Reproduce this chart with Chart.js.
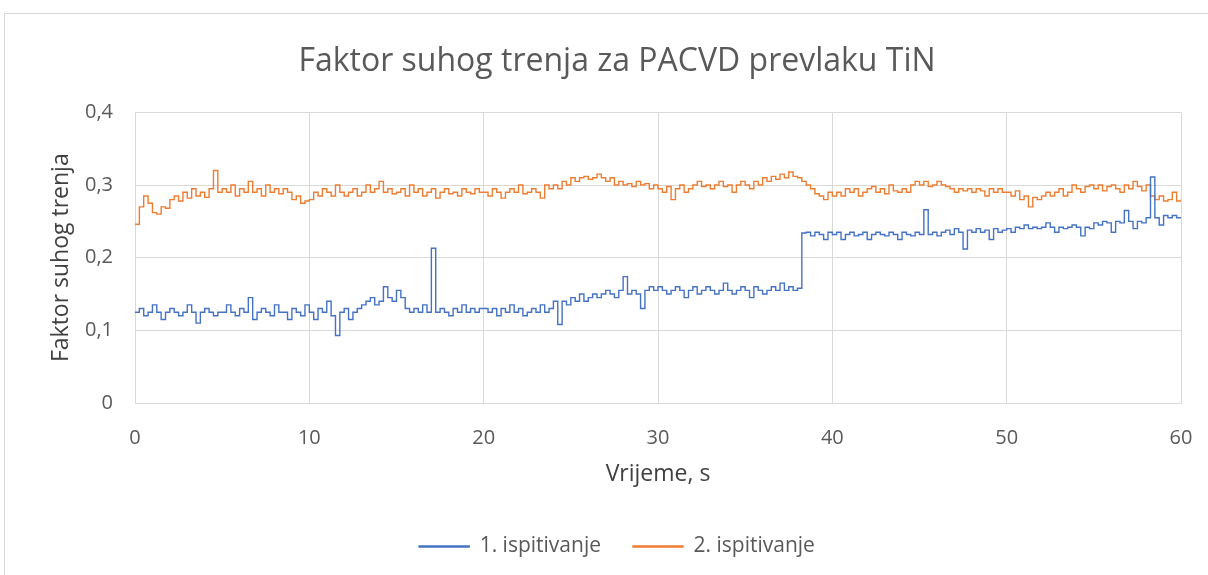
<!DOCTYPE html>
<html>
<head>
<meta charset="utf-8">
<script src="https://cdn.jsdelivr.net/npm/chart.js"></script>
<style>
  html, body { margin: 0; padding: 0; background: #fff; overflow: hidden; }
  #frame {
    position: absolute; left: 4px; top: 13px; width: 1220px; height: 600px;
    border: 1px solid #d9d9d9; box-sizing: border-box;
  }
  #wrap { position: absolute; left: 0; top: 0; width: 1208px; height: 575px; }
</style>
</head>
<body>
<div id="frame"></div>
<div id="wrap"><canvas id="frictionChart" width="1208" height="575"></canvas></div>
<script>
// Sampling step of the readings (s), values every 0.25 s
const sampleStep = 0.25;

const seriesNames = ["1. ispitivanje", "2. ispitivanje"];

const yTickLabels = ["0", "0,1", "0,2", "0,3", "0,4"];

// 1. ispitivanje (blue)
const test1 = [
  0.125, 0.13, 0.12, 0.125, 0.135, 0.125, 0.115, 0.125, 0.13, 0.125, 0.12, 0.125, 0.135, 0.125, 0.11, 0.125, 0.13, 0.125, 0.12, 0.125,
  0.125, 0.135, 0.125, 0.12, 0.13, 0.125, 0.145, 0.115, 0.125, 0.13, 0.125, 0.12, 0.135, 0.125, 0.125, 0.115, 0.13, 0.125, 0.12, 0.135,
  0.125, 0.115, 0.13, 0.125, 0.14, 0.12, 0.093, 0.125, 0.13, 0.115, 0.125, 0.13, 0.135, 0.14, 0.145, 0.135, 0.14, 0.16, 0.145, 0.14,
  0.155, 0.145, 0.13, 0.125, 0.13, 0.125, 0.135, 0.125, 0.213, 0.125, 0.13, 0.125, 0.12, 0.13, 0.125, 0.135, 0.125, 0.13, 0.125, 0.13,
  0.13, 0.125, 0.13, 0.12, 0.13, 0.125, 0.135, 0.125, 0.13, 0.12, 0.125, 0.13, 0.125, 0.135, 0.125, 0.13, 0.14, 0.108, 0.14, 0.135,
  0.145, 0.14, 0.15, 0.14, 0.145, 0.15, 0.145, 0.15, 0.155, 0.15, 0.145, 0.155, 0.174, 0.15, 0.155, 0.15, 0.13, 0.155, 0.16, 0.155,
  0.16, 0.155, 0.15, 0.155, 0.16, 0.155, 0.145, 0.155, 0.16, 0.15, 0.155, 0.16, 0.155, 0.15, 0.155, 0.165, 0.155, 0.15, 0.155, 0.16,
  0.155, 0.145, 0.16, 0.155, 0.15, 0.155, 0.16, 0.155, 0.165, 0.155, 0.16, 0.155, 0.158, 0.234, 0.235, 0.23, 0.235, 0.232, 0.225, 0.235,
  0.232, 0.235, 0.225, 0.232, 0.235, 0.23, 0.232, 0.235, 0.225, 0.232, 0.235, 0.232, 0.23, 0.235, 0.232, 0.225, 0.235, 0.232, 0.23, 0.235,
  0.232, 0.266, 0.232, 0.235, 0.23, 0.235, 0.238, 0.232, 0.24, 0.235, 0.212, 0.238, 0.235, 0.24, 0.235, 0.238, 0.225, 0.24, 0.235, 0.238,
  0.24, 0.235, 0.242, 0.24, 0.245, 0.24, 0.242, 0.24, 0.242, 0.248, 0.242, 0.235, 0.242, 0.24, 0.242, 0.245, 0.242, 0.23, 0.242, 0.24,
  0.248, 0.245, 0.25, 0.248, 0.235, 0.25, 0.248, 0.265, 0.25, 0.24, 0.25, 0.248, 0.255, 0.311, 0.255, 0.245, 0.258, 0.255, 0.258, 0.255,
  0.255
];

// 2. ispitivanje (orange)
const test2 = [
  0.246, 0.27, 0.285, 0.275, 0.262, 0.26, 0.27, 0.268, 0.28, 0.285, 0.278, 0.29, 0.282, 0.295, 0.285, 0.29, 0.283, 0.295, 0.32, 0.29,
  0.295, 0.29, 0.3, 0.285, 0.295, 0.29, 0.305, 0.29, 0.295, 0.285, 0.3, 0.29, 0.295, 0.288, 0.295, 0.29, 0.28, 0.285, 0.275, 0.278,
  0.28, 0.29, 0.285, 0.295, 0.29, 0.285, 0.3, 0.29, 0.285, 0.29, 0.295, 0.285, 0.29, 0.3, 0.29, 0.295, 0.305, 0.29, 0.295, 0.288,
  0.29, 0.295, 0.285, 0.3, 0.29, 0.295, 0.285, 0.29, 0.295, 0.282, 0.29, 0.295, 0.288, 0.29, 0.285, 0.295, 0.29, 0.288, 0.295, 0.29,
  0.29, 0.285, 0.295, 0.29, 0.282, 0.29, 0.295, 0.29, 0.3, 0.288, 0.29, 0.295, 0.29, 0.282, 0.3, 0.295, 0.3, 0.295, 0.305, 0.3,
  0.31, 0.305, 0.31, 0.312, 0.308, 0.31, 0.315, 0.31, 0.305, 0.31, 0.3, 0.305, 0.3, 0.302, 0.298, 0.305, 0.3, 0.302, 0.295, 0.3,
  0.295, 0.29, 0.298, 0.28, 0.295, 0.3, 0.29, 0.295, 0.3, 0.305, 0.298, 0.3, 0.295, 0.3, 0.305, 0.298, 0.3, 0.29, 0.3, 0.305,
  0.3, 0.295, 0.305, 0.3, 0.31, 0.305, 0.312, 0.308, 0.315, 0.31, 0.318, 0.312, 0.31, 0.305, 0.3, 0.295, 0.288, 0.285, 0.28, 0.29,
  0.285, 0.29, 0.285, 0.295, 0.29, 0.295, 0.285, 0.29, 0.295, 0.298, 0.29, 0.295, 0.288, 0.3, 0.292, 0.29, 0.295, 0.29, 0.3, 0.305,
  0.3, 0.305, 0.298, 0.3, 0.305, 0.3, 0.298, 0.295, 0.29, 0.295, 0.292, 0.295, 0.29, 0.295, 0.292, 0.285, 0.295, 0.29, 0.295, 0.29,
  0.29, 0.285, 0.292, 0.28, 0.285, 0.27, 0.283, 0.28, 0.285, 0.29, 0.285, 0.29, 0.295, 0.285, 0.29, 0.3, 0.295, 0.29, 0.298, 0.3,
  0.295, 0.3, 0.292, 0.298, 0.3, 0.295, 0.29, 0.3, 0.295, 0.305, 0.298, 0.292, 0.3, 0.285, 0.28, 0.285, 0.278, 0.28, 0.29, 0.278,
  0.28
];

function toPoints(values) {
  return values.map((v, i) => ({ x: i * sampleStep, y: v }));
}

const textColor = "#595959";
const gridColor = "#d9d9d9";
const fontFamily = "'Open Sans', sans-serif";

const data = {
  datasets: [
    {
      label: seriesNames[0],
      data: toPoints(test1),
      borderColor: "#4472c4",
      backgroundColor: "#4472c4",
      borderWidth: 1.4,
      pointRadius: 0,
      stepped: true,
    },
    {
      label: seriesNames[1],
      data: toPoints(test2),
      borderColor: "#ed7d31",
      backgroundColor: "#ed7d31",
      borderWidth: 1.4,
      pointRadius: 0,
      stepped: true,
    },
  ],
};

const config = {
  type: "line",
  data: data,
  options: {
    responsive: false,
    animation: false,
    layout: { padding: { left: 45, right: 19, top: 0, bottom: 8 } },
    scales: {
      x: {
        type: "linear",
        min: 0,
        max: 60,
        ticks: {
          stepSize: 10,
          color: textColor,
          padding: 23,
          font: { family: fontFamily, size: 20 },
          maxRotation: 0,
        },
        grid: { color: gridColor, drawTicks: false },
        border: { color: gridColor },
        title: {
          display: true,
          text: "Vrijeme, s",
          color: "#404040",
          font: { family: fontFamily, size: 23 },
          padding: { top: 0, bottom: 16 },
        },
        afterFit: function (scale) {
          scale.height = 101;
          scale.paddingLeft = 0;
          scale.paddingRight = 27;
        },
      },
      y: {
        min: 0,
        max: 0.4,
        ticks: {
          stepSize: 0.1,
          color: textColor,
          padding: 22,
          font: { family: fontFamily, size: 20 },
          callback: function (value, index) {
            return yTickLabels[index];
          },
        },
        grid: { color: gridColor, drawTicks: false },
        border: { color: gridColor },
        title: {
          display: true,
          text: "Faktor suhog trenja",
          color: "#404040",
          font: { family: fontFamily, size: 23 },
          padding: { top: 3, bottom: 0 },
        },
        afterFit: function (scale) {
          scale.width = 90;
        },
      },
    },
    plugins: {
      title: {
        display: true,
        text: "Faktor suhog trenja za PACVD prevlaku TiN",
        color: textColor,
        font: { family: fontFamily, size: 32, weight: "normal" },
        padding: { top: 43, bottom: 31 },
      },
      legend: {
        position: "bottom",
        labels: {
          color: textColor,
          font: { family: fontFamily, size: 21 },
          boxWidth: 50,
          boxHeight: 1,
          padding: 32,
        },
      },
      tooltip: { enabled: false },
    },
  },
};

new Chart(document.getElementById("frictionChart").getContext("2d"), config);
</script>
</body>
</html>
